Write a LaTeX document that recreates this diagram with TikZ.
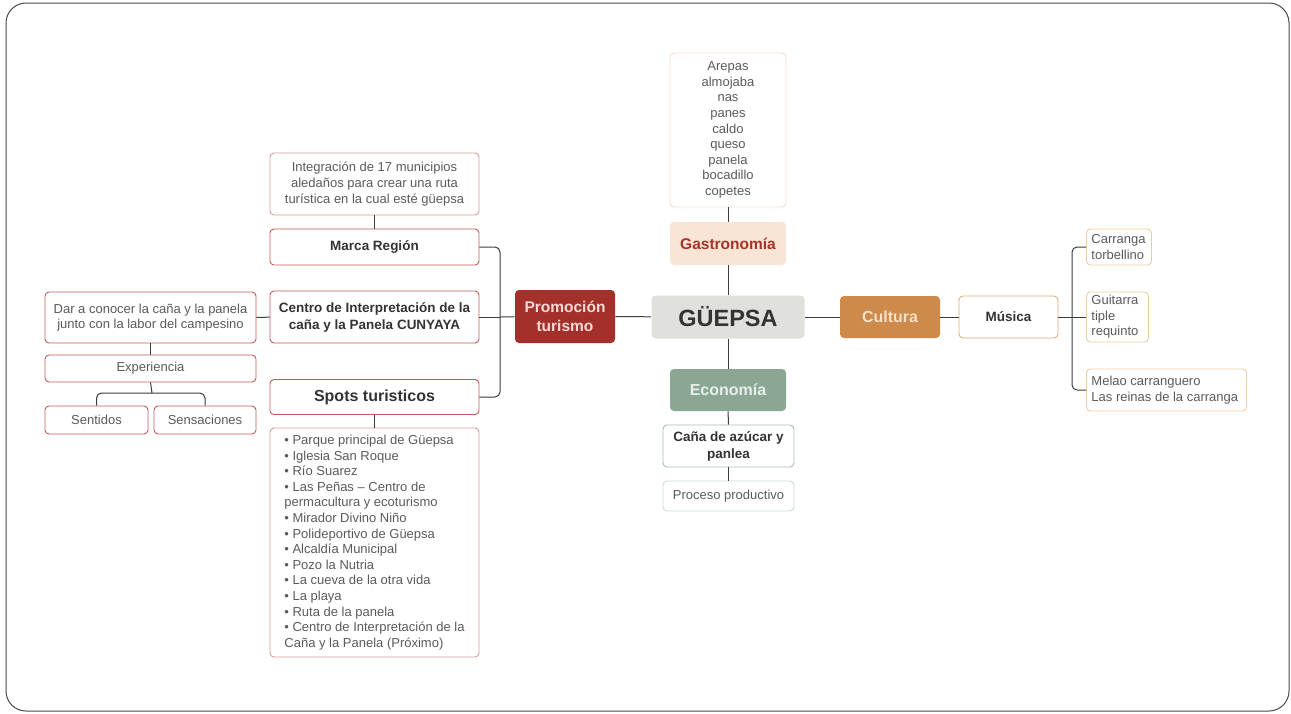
\documentclass[tikz,border=0pt]{standalone}
\usepackage{fontspec}
\setmainfont{Liberation Sans}
\usepackage{xcolor}
\definecolor{cFrame}{HTML}{4A4A4A}
\definecolor{cLink}{HTML}{3C3C3C}
\definecolor{cText}{HTML}{5A5A5A}
\definecolor{cDark}{HTML}{333333}
\definecolor{cCenter}{HTML}{E0E0DC}
\definecolor{cGastro}{HTML}{F9E5D5}
\definecolor{cGastroTxt}{HTML}{A8332B}
\definecolor{cGastroLine}{HTML}{F4DCC8}
\definecolor{cEco}{HTML}{8AA793}
\definecolor{cEcoTxt}{HTML}{E8EFEA}
\definecolor{cEcoLine}{HTML}{A3BDAB}
\definecolor{cEcoSoft}{HTML}{C9DACE}
\definecolor{cCult}{HTML}{CD8A4A}
\definecolor{cCultTxt}{HTML}{F6E0C9}
\definecolor{cCultLine}{HTML}{DDAA7A}
\definecolor{cCultSoft}{HTML}{EDCBA8}
\definecolor{cProm}{HTML}{A3302A}
\definecolor{cPromTxt}{HTML}{F7DAD5}
\definecolor{cPromLine}{HTML}{C05A58}
\definecolor{cPromSoft}{HTML}{D69A98}
\usetikzlibrary{positioning}
\tikzset{
  node-box/.style={rounded corners=4pt,align=center,inner sep=0pt,line width=0.9pt},
  node-small/.style={node-box,font=\fontsize{13}{15.6}\selectfont,text=cText},
  node-bold/.style={node-box,font=\fontsize{13.5}{17}\selectfont\bfseries,text=cDark},
  node-list/.style={rounded corners=4pt,align=flush left,inner xsep=5pt,inner ysep=0pt,
    line width=0.9pt,font=\fontsize{13}{15.6}\selectfont,text=cText,anchor=west},
  node-prom/.style={draw=cPromLine},
  node-prom-soft/.style={draw=cPromSoft},
  node-eco/.style={draw=cEcoLine},
  node-eco-soft/.style={draw=cEcoSoft},
  node-cult/.style={draw=cCultLine},
  node-cult-soft/.style={draw=cCultSoft},
  link/.style={draw=cLink,line width=1pt},
  link-fork/.style={link,rounded corners=5pt},
}
\begin{document}
\begin{tikzpicture}[x=1pt,y=-1pt]
  \useasboundingbox (0,0) rectangle (1291,713);
  \draw[cFrame,line width=1pt,rounded corners=20pt] (6,3) rectangle (1289,711);

  % centro y ramas
  \node[node-box,fill=cCenter,text=cDark,font=\fontsize{23.5}{28}\selectfont\bfseries,
    minimum width=153,minimum height=43] (gue) at (728,317) {GÜEPSA};
  \node[node-box,fill=cGastro,text=cGastroTxt,font=\fontsize{15.5}{18}\selectfont\bfseries,
    minimum width=116,minimum height=43] (gastro) at (728,243.5) {Gastronomía};
  \node[node-small,draw=cGastroLine,minimum width=116,minimum height=154] (comida) at (728,130)
    {Arepas\\almojaba\\nas\\panes\\caldo\\queso\\panela\\bocadillo\\copetes};
  \node[node-box,fill=cEco,text=cEcoTxt,font=\fontsize{16}{19}\selectfont\bfseries,
    minimum width=116,minimum height=42] (eco) at (728,390) {Economía};
  \node[node-bold,node-eco,minimum width=131,minimum height=42] (cana) at (728.5,446)
    {Caña de azúcar y\\panlea};
  \node[node-small,node-eco-soft,minimum width=131,minimum height=30] (proceso) at (728.5,496)
    {Proceso productivo};
  \node[node-box,fill=cCult,text=cCultTxt,font=\fontsize{16}{19}\selectfont\bfseries,
    minimum width=100,minimum height=42] (cult) at (890,317) {Cultura};
  \node[node-bold,node-cult,minimum width=99,minimum height=42] (musica) at (1008.5,317) {Música};
  \node[node-list,node-cult-soft,text width=55,minimum height=36] (carranga) at (1086,247)
    {Carranga\\torbellino};
  \node[node-list,node-cult-soft,text width=52,minimum height=50] (guitarra) at (1086,317)
    {Guitarra\\tiple\\requinto};
  \node[node-list,node-cult-soft,text width=150,minimum height=42] (melao) at (1086,390)
    {Melao carranguero\\Las reinas de la carranga};
  \node[node-box,fill=cProm,text=cPromTxt,font=\fontsize{15.5}{19}\selectfont\bfseries,
    minimum width=100,minimum height=53] (prom) at (565,316.5) {Promoción\\turismo};

  % promocion turismo
  \node[node-small,node-prom-soft,minimum width=209,minimum height=62] (integra) at (374.5,184)
    {Integración de 17 municipios\\aledaños para crear una ruta\\turística en la cual esté güepsa};
  \node[node-bold,node-prom,minimum width=209,minimum height=36] (marca) at (374.5,247) {Marca Región};
  \node[node-bold,node-prom,minimum width=209,minimum height=52] (cunyaya) at (374.5,317)
    {Centro de Interpretación de la\\caña y la Panela CUNYAYA};
  \node[node-box,node-prom,font=\fontsize{16}{19}\selectfont\bfseries,text=cDark,
    minimum width=209,minimum height=35] (spots) at (374.5,397) {Spots turisticos};
  \node[node-small,node-prom-soft,align=left,minimum width=209,minimum height=229] (lugares) at (374.5,542.5)
    {• Parque principal de Güepsa\\• Iglesia San Roque\\• Río Suarez\\• Las Peñas – Centro de\\permacultura y ecoturismo\\• Mirador Divino Niño\\• Polideportivo de Güepsa\\• Alcaldía Municipal\\• Pozo la Nutria\\• La cueva de la otra vida\\• La playa\\• Ruta de la panela\\• Centro de Interpretación de la\\Caña y la Panela (Próximo)};
  \node[node-small,node-prom,minimum width=211,minimum height=51] (conocer) at (150.5,317.5)
    {Dar a conocer la caña y la panela\\junto con la labor del campesino};
  \node[node-small,node-prom,minimum width=211,minimum height=27] (exper) at (150.5,368.5) {Experiencia};
  \node[node-small,node-prom,minimum width=103,minimum height=28] (sentidos) at (96.5,420) {Sentidos};
  \node[node-small,node-prom,minimum width=102,minimum height=28] (sensa) at (205,420) {Sensaciones};

  \coordinate (promfork) at (500,317);
  \coordinate (musfork) at (1072,317);
  \coordinate (expfork) at (152,393);

  \draw[link] (comida) -- (gastro);
  \draw[link] (gastro) -- (gue);
  \draw[link] (gue) -- (eco);
  \draw[link] (eco) -- (cana);
  \draw[link] (cana) -- (proceso);
  \draw[link] (gue) -- (cult);
  \draw[link] (cult) -- (musica);
  \draw[link] (musica) -- (musfork);
  \draw[link-fork] (carranga.west) -| (musfork) |- (melao.west);
  \draw[link] (musfork) -- (guitarra.west);
  \draw[link] (gue) -- (prom);
  \draw[link] (prom) -- (promfork);
  \draw[link-fork] (marca.east) -| (promfork) |- (spots.east);
  \draw[link] (promfork) -- (cunyaya.east);
  \draw[link] (integra) -- (marca);
  \draw[link] (spots) -- (lugares);
  \draw[link] (cunyaya) -- (conocer);
  \draw[link] (conocer) -- (exper);
  \draw[link] (exper.south) -- (expfork);
  \draw[link-fork] (sentidos.north) |- (expfork) -| (sensa.north);
\end{tikzpicture}
\end{document}
